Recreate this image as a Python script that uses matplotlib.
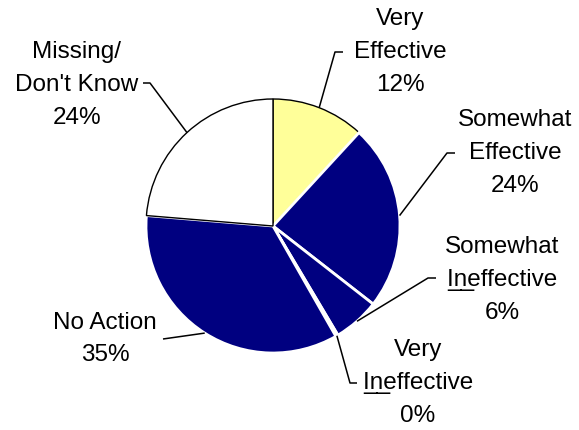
import numpy as np
import matplotlib
matplotlib.use("Agg")
import matplotlib.pyplot as plt

# ---------------------------
# DATA
# ---------------------------
categories = ["Very\nEffective", "Somewhat\nEffective", "Somewhat\nI\u0332n\u0332effective",
              "Very\nI\u0332n\u0332effective", "No Action", "Missing/\nDon't Know"]
values = [12, 24, 6, 0.3, 35, 24]
pct_labels = ["12%", "24%", "6%", "0%", "35%", "24%"]
colors = ["#FFFF99", "#000080", "#000080", "#000080", "#000080", "#FFFFFF"]
edge_colors = ["black", "white", "white", "white", "white", "black"]

# layout (pixel coords, y from top) : text centre, elbow, end of leader
text_pos = [(400, 52), (515, 153), (502, 280), (418, 383), (105, 339), (77, 85)]
elbows = [(335, 52), (447, 153), (428, 278), (350, 383), None, (150, 83)]
ends = [(343, 52), (455, 153), (436, 278), (357, 383), (163, 339), (143, 83)]

W, H = 579, 430
CENTER = (273, H - 226)
RADIUS = 127

plt.rcParams['font.family'] = ['Liberation Sans', 'DejaVu Sans']

fig = plt.figure(figsize=(W / 100, H / 100), dpi=100)
ax = fig.add_axes([0, 0, 1, 1])

wedges, _ = ax.pie(values, colors=colors, startangle=90, counterclock=False,
                   center=CENTER, radius=RADIUS, frame=True)
for w, ec in zip(wedges, edge_colors):
    w.set_edgecolor(ec)
    w.set_linewidth(1.0 if ec == "black" else 2.0)
ax.set_xlim(0, W)
ax.set_ylim(0, H)
ax.set_aspect('equal')
ax.axis('off')

for w, cat, pct, tp, el, en in zip(wedges, categories, pct_labels, text_pos, elbows, ends):
    # leader starts at the middle of the wedge's arc
    mid = np.deg2rad((w.theta1 + w.theta2) / 2)
    ax_x = CENTER[0] + RADIUS * np.cos(mid)
    ax_y = CENTER[1] + RADIUS * np.sin(mid)
    pts = [(ax_x, ax_y)]
    if el is not None:
        pts.append((el[0], H - el[1]))
    pts.append((en[0], H - en[1]))
    xs, ys = zip(*pts)
    ax.plot(xs, ys, color='black', lw=1.1, solid_capstyle='butt')
    ax.text(tp[0], H - tp[1], cat + "\n" + pct, ha='center', va='center',
            fontsize=17.5, linespacing=1.62, multialignment='center')

fig.savefig("out.png", dpi=100)
